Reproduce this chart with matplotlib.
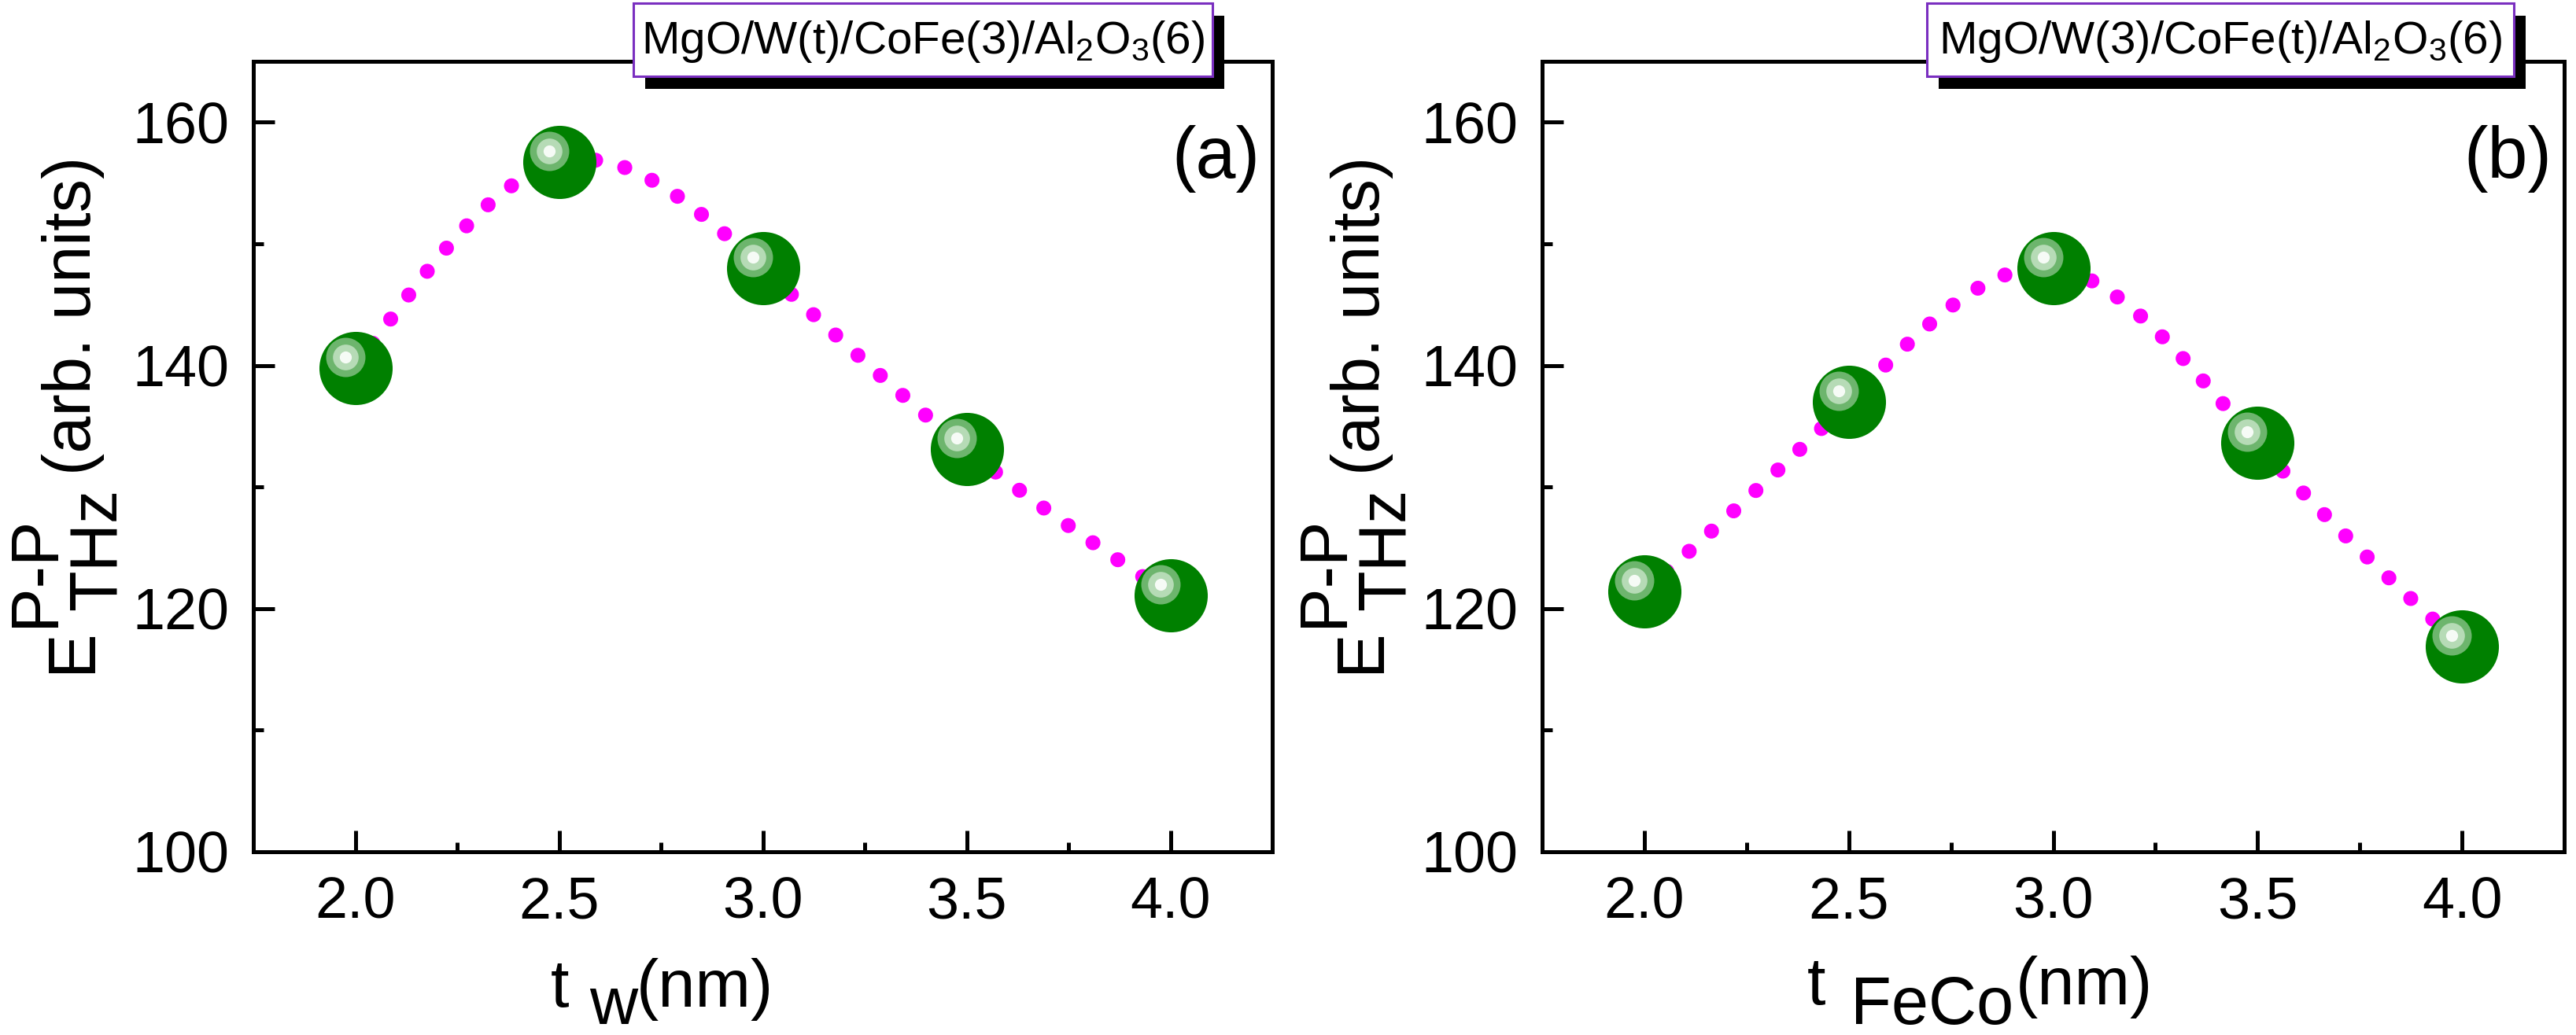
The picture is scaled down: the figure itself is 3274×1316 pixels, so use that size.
import numpy as np
import matplotlib
matplotlib.use('Agg')
import matplotlib.pyplot as plt
from matplotlib.patches import Rectangle
from matplotlib.ticker import MultipleLocator, FixedLocator, FixedFormatter
from matplotlib.transforms import offset_copy

plt.rcParams['font.family'] = ['Liberation Sans', 'DejaVu Sans']
plt.rcParams['mathtext.fontset'] = 'custom'
plt.rcParams['mathtext.rm'] = 'Liberation Sans'
plt.rcParams['mathtext.it'] = 'Liberation Sans:italic'

# ---------------- data ----------------
thickness = [2.0, 2.5, 3.0, 3.5, 4.0]
amp_w = [139.8, 156.7, 148.0, 133.1, 121.1]      # (a) vary W thickness
amp_cofe = [121.4, 137.0, 148.0, 133.6, 116.9]   # (b) vary CoFe thickness
yticks = [100, 120, 140, 160]
ytick_labels = ['100', '120', '140', '160']
xticks = [2.0, 2.5, 3.0, 3.5, 4.0]
xtick_labels = ['2.0', '2.5', '3.0', '3.5', '4.0']
sample_labels = [r'MgO/W(t)/CoFe(3)/Al$_2$O$_3$(6)',
                 r'MgO/W(3)/CoFe(t)/Al$_2$O$_3$(6)']
panel_tags = ['(a)', '(b)']

W, H, DPI = 3274, 1316, 100


def px(x):
    return x / W


def py(y):
    return 1 - y / H


def natural_spline(x, y, n=300):
    x = np.asarray(x, float)
    y = np.asarray(y, float)
    m = len(x)
    h = np.diff(x)
    A = np.zeros((m, m))
    r = np.zeros(m)
    A[0, 0] = A[-1, -1] = 1.0
    for i in range(1, m - 1):
        A[i, i - 1] = h[i - 1]
        A[i, i] = 2 * (h[i - 1] + h[i])
        A[i, i + 1] = h[i]
        r[i] = 3 * ((y[i + 1] - y[i]) / h[i] - (y[i] - y[i - 1]) / h[i - 1])
    c = np.linalg.solve(A, r)
    b = (y[1:] - y[:-1]) / h - h * (2 * c[:-1] + c[1:]) / 3
    d = (c[1:] - c[:-1]) / (3 * h)
    xs = np.linspace(x[0], x[-1], n)
    idx = np.clip(np.searchsorted(x, xs, side='right') - 1, 0, m - 2)
    t = xs - x[idx]
    ys = y[idx] + b[idx] * t + c[idx] * t ** 2 + d[idx] * t ** 3
    return xs, ys


fig = plt.figure(figsize=(W / DPI, H / DPI), dpi=DPI)

axes_px = [(322, 1617), (1960, 3259)]
top_px, bot_px = 78, 1083
series = [amp_w, amp_cofe]

for k, ax_x in enumerate(axes_px):
    x0, x1 = ax_x
    ax = fig.add_axes([px(x0), py(bot_px), (x1 - x0) / W, (bot_px - top_px) / H])
    ax.set_xlim(1.75, 4.25)
    ax.set_ylim(100, 165)
    for s in ax.spines.values():
        s.set_linewidth(3.6)
    ax.xaxis.set_major_locator(FixedLocator(xticks))
    ax.xaxis.set_major_formatter(FixedFormatter(xtick_labels))
    ax.yaxis.set_major_locator(FixedLocator(yticks))
    ax.yaxis.set_major_formatter(FixedFormatter(ytick_labels))
    ax.xaxis.set_minor_locator(MultipleLocator(0.25))
    ax.yaxis.set_minor_locator(MultipleLocator(10))
    ax.tick_params(which='both', direction='in', top=False, right=False, width=3.6)
    ax.tick_params(which='major', length=19.5, labelsize=53, pad=22)
    ax.tick_params(which='minor', length=9)

    yv = series[k]
    xs, ys = natural_spline(thickness, yv)
    ax.plot(xs, ys, color='#ff00ff', lw=13.7, ls=(0, (0.01, 2.0)),
            dash_capstyle='round', zorder=2)
    ax.plot(thickness, yv, 'o', ms=67, mfc='#008000', mec='none', zorder=3)
    tr = offset_copy(ax.transData, fig=fig, x=-13, y=14, units='dots')
    ax.plot(thickness, yv, 'o', ms=36, mfc='#6db56d', mec='none', transform=tr, zorder=4)
    ax.plot(thickness, yv, 'o', ms=23.5, mfc='#b6dbb6', mec='none', transform=tr, zorder=5)
    ax.plot(thickness, yv, 'o', ms=11, mfc='#f6fbf6', mec='none', transform=tr, zorder=6)

    # panel tag
    fig.text(px(x1 - 16), py(226), panel_tags[k], fontsize=66, ha='right', va='baseline')

    # y label pieces (rotated)
    base = x0
    fig.text(px(base - 207), py(855), 'E', fontsize=61, rotation=90,
             rotation_mode='anchor', ha='left', va='baseline')
    fig.text(px(base - 254), py(797), 'P-P', fontsize=61, rotation=90,
             rotation_mode='anchor', ha='left', va='baseline')
    fig.text(px(base - 175), py(776), 'THz', fontsize=61, rotation=90,
             rotation_mode='anchor', ha='left', va='baseline')
    fig.text(px(base - 207), py(604), '(arb. units)', fontsize=61, rotation=90,
             rotation_mode='anchor', ha='left', va='baseline')

# x labels
fig.text(px(700), py(1280), 't', fontsize=61, ha='left', va='baseline')
fig.text(px(749), py(1302), 'w', fontsize=61, ha='left', va='baseline')
fig.text(px(809), py(1280), '(nm)', fontsize=61, ha='left', va='baseline')
fig.text(px(2297), py(1277), 't', fontsize=61, ha='left', va='baseline')
fig.text(px(2352), py(1302), 'FeCo', fontsize=61, ha='left', va='baseline')
fig.text(px(2562), py(1277), '(nm)', fontsize=61, ha='left', va='baseline')

# sample boxes with drop shadow
boxes = [(805, 1541), (2449, 3195)]
by0, by1 = 4, 97
for k, (bx0, bx1) in enumerate(boxes):
    shadow = Rectangle((px(bx0 + 15), py(by1 + 16)), (bx1 - bx0) / W, (by1 - by0) / H,
                       transform=fig.transFigure, facecolor='black', edgecolor='none', zorder=10)
    box = Rectangle((px(bx0), py(by1)), (bx1 - bx0) / W, (by1 - by0) / H,
                    transform=fig.transFigure, facecolor='white', edgecolor='#7a2fc0',
                    linewidth=2.2, zorder=11)
    fig.add_artist(shadow)
    fig.add_artist(box)
    fig.text(px((bx0 + bx1) / 2), py((by0 + by1) / 2 + 2), sample_labels[k], fontsize=42,
             ha='center', va='center', zorder=12)

fig.savefig('out.png', dpi=DPI)
